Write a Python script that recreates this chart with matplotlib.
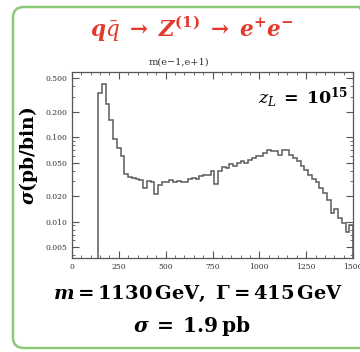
import numpy as np
import matplotlib
matplotlib.use("Agg")
import matplotlib.pyplot as plt
from matplotlib.patches import FancyBboxPatch
from matplotlib.ticker import FixedLocator, NullFormatter, LogLocator

plt.rcParams['mathtext.fontset'] = 'dejavuserif'
plt.rcParams['font.family'] = ['DejaVu Serif']

# histogram of m(e-,e+), 20 GeV bins from 140 to 1500
bin_lo = 140
bin_w = 20
sigma_bins = [
    0.333, 0.425, 0.249, 0.159, 0.094, 0.074, 0.059, 0.0365, 0.034, 0.033,
    0.032, 0.031, 0.025, 0.030, 0.029, 0.021, 0.027, 0.029, 0.029, 0.031,
    0.029, 0.030, 0.029, 0.029, 0.032, 0.033, 0.032, 0.035, 0.036, 0.036,
    0.040, 0.028, 0.040, 0.044, 0.043, 0.048, 0.046, 0.049, 0.052, 0.050,
    0.054, 0.056, 0.060, 0.059, 0.064, 0.070, 0.068, 0.069, 0.062, 0.071,
    0.070, 0.062, 0.057, 0.052, 0.046, 0.041, 0.036, 0.032, 0.029, 0.025,
    0.022, 0.018, 0.0125, 0.014, 0.011, 0.0095, 0.0075, 0.009,
]
y_ticks = [0.005, 0.010, 0.020, 0.050, 0.100, 0.200, 0.500]
x_ticks = [0, 250, 500, 750, 1000, 1250, 1500]

edges = bin_lo + bin_w * np.arange(len(sigma_bins) + 1)

W, H = 360, 352
fig = plt.figure(figsize=(W / 100, H / 100), dpi=100)
fig.patch.set_facecolor("white")

# rounded green frame
box = FancyBboxPatch((13 / W, 1 - 348 / H), (370 - 13) / W, (348 - 7) / H,
                     boxstyle="round,pad=0,rounding_size=0.03",
                     transform=fig.transFigure, facecolor="none",
                     edgecolor="#8cc878", linewidth=1.8, zorder=-1)
fig.patches.append(box)

ax = fig.add_axes([72 / W, 1 - 258 / H, (353 - 72) / W, (258 - 72) / H])
ax.set_yscale("log")
ax.set_xlim(0, 1500)
ax.set_ylim(0.0037, 0.59)
ax.stairs(sigma_bins, edges, baseline=1e-4, color="#5f5a57", linewidth=1.1)

ax.yaxis.set_major_locator(FixedLocator(y_ticks))
ax.set_yticklabels([f"{v:.3f}" for v in y_ticks])
ax.yaxis.set_minor_locator(LogLocator(base=10, subs=np.arange(1, 10)))
ax.yaxis.set_minor_formatter(NullFormatter())
ax.set_xticks(x_ticks)
ax.set_xticklabels([str(v) for v in x_ticks])
ax.xaxis.set_minor_locator(FixedLocator(np.arange(0, 1501, 50)))
ax.tick_params(which="both", direction="in", top=True, right=True,
               colors="#555555", labelcolor="#333333", labelsize=5.5)
ax.tick_params(which="major", length=5, width=0.8)
ax.tick_params(which="minor", length=2.5, width=0.6)
for s in ax.spines.values():
    s.set_color("#555555")
    s.set_linewidth(0.9)

ax.set_ylabel(r"$\boldsymbol{\sigma}\mathbf{(pb/bin)}$", fontsize=13.5)
ax.yaxis.set_label_coords(-0.114, 0.55)
ax.text(0.985, 0.86,
        r"$\boldsymbol{z_L}\;\mathbf{=}\;\mathbf{10^{15}}$",
        transform=ax.transAxes, ha="right", va="center", fontsize=12.5)

cx = 192 / W
fig.text(cx, 1 - 28 / H,
         r"$\boldsymbol{q\bar{q}}\ \mathbf{\rightarrow}\ \boldsymbol{Z}^{\mathbf{(1)}}\ \mathbf{\rightarrow}\ \boldsymbol{e}^{\mathbf{+}}\boldsymbol{e}^{\mathbf{-}}$",
         ha="center", va="center", fontsize=15.5, color="#e03a2c")
fig.text(179 / W, 1 - 62 / H, "m(e\u22121,e+1)", ha="center", va="center",
         fontsize=7, color="#333333")
fig.text(198 / W, 1 - 294 / H,
         r"$\boldsymbol{m}\mathbf{=}\mathbf{1130\,GeV,}\ \mathbf{\Gamma}\mathbf{=}\mathbf{415\,GeV}$",
         ha="center", va="center", fontsize=14)
fig.text(cx, 1 - 326 / H,
         r"$\boldsymbol{\sigma}\;\mathbf{=}\;\mathbf{1.9\,pb}$",
         ha="center", va="center", fontsize=14.5)

fig.savefig("out.png", dpi=100)
